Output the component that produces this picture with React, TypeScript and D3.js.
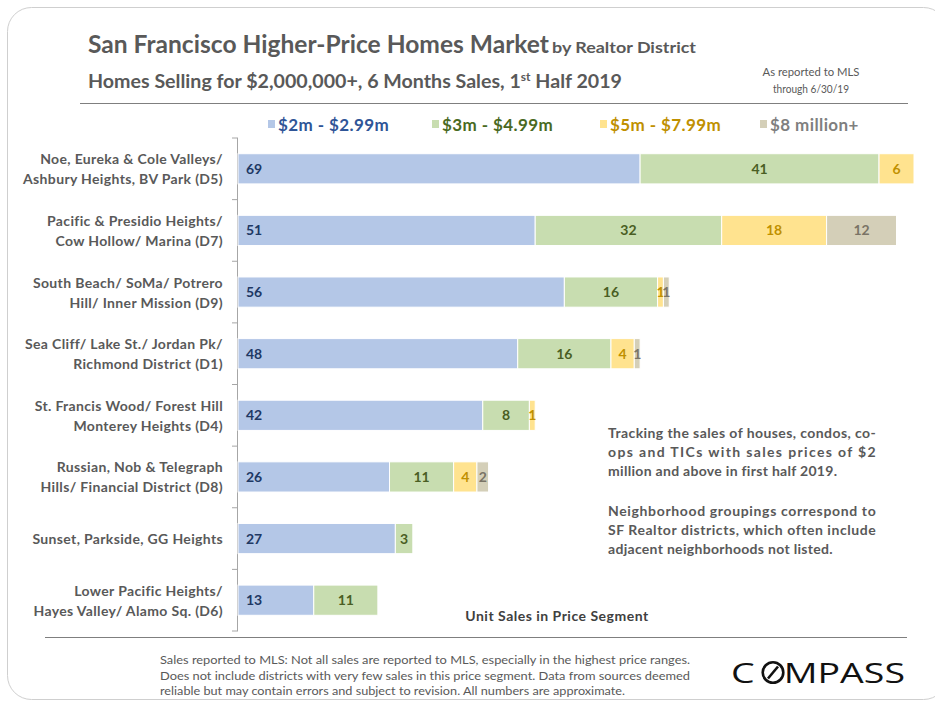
import React from "react";
import * as d3 from "d3";

const districts: string[][] = [
  ["Noe, Eureka & Cole Valleys/", "Ashbury Heights, BV Park (D5)"],
  ["Pacific & Presidio Heights/", "Cow Hollow/ Marina (D7)"],
  ["South Beach/ SoMa/ Potrero", "Hill/ Inner Mission  (D9)"],
  ["Sea Cliff/ Lake St./ Jordan Pk/", "Richmond District (D1)"],
  ["St. Francis Wood/ Forest Hill", "Monterey Heights (D4)"],
  ["Russian, Nob & Telegraph", "Hills/ Financial District (D8)"],
  ["Sunset, Parkside, GG Heights"],
  ["Lower Pacific Heights/", "Hayes Valley/ Alamo Sq. (D6)"],
];
const seg2to3 = [69, 51, 56, 48, 42, 26, 27, 13];
const seg3to5 = [41, 32, 16, 16, 8, 11, 3, 11];
const seg5to8 = [6, 18, 1, 4, 1, 4, 0, 0];
const seg8plus = [0, 12, 1, 1, 0, 2, 0, 0];
const seriesNames = ["$2m - $2.99m", "$3m - $4.99m", "$5m - $7.99m", "$8 million+"];
const seriesFill = ["#b4c7e7", "#c8ddb0", "#ffe38f", "#d4cfb8"];
const seriesText = ["#203864", "#4a5e23", "#bf9000", "#7a7466"];
const legendText = ["#2f5597", "#4a6a1f", "#bf9000", "#7f7f7f"];

const noteLines1 = [
  "Tracking the sales of houses, condos, co-",
  "ops and TICs with sales prices of $2",
  "million and above in first half 2019.",
];
const noteLines2 = [
  "Neighborhood groupings correspond to",
  "SF Realtor districts, which often include",
  "adjacent neighborhoods not listed.",
];
const footerLines = [
  "Sales reported to MLS: Not all sales are reported to MLS, especially in the highest price ranges.",
  "Does not include districts with very few sales in this price segment. Data from sources deemed",
  "reliable but may contain  errors and subject to revision.  All numbers are approximate.",
];

const FONT = "Lato, 'Open Sans', sans-serif";
const GRAY = "#595959";

export default function App() {
  const series = [seg2to3, seg3to5, seg5to8, seg8plus];
  const x = d3.scaleLinear().domain([0, 116]).range([238, 914]);
  const y = d3
    .scaleBand<number>()
    .domain(d3.range(districts.length))
    .range([138, 631])
    .padding(0);
  const barH = y.bandwidth() * 0.49;

  const stack = d3
    .stack<number>()
    .keys(d3.range(series.length).map(String))
    .value((i, k) => series[+k][i]);
  const stacked = stack(d3.range(districts.length));

  const legendX = [268, 432, 600, 760];

  return (
    <svg
      width={935}
      height={705}
      style={{ position: "absolute", left: 0, top: 0, background: "#fff" }}
      fontFamily={FONT}
    >
      <rect x={7.5} y={7.5} width={940} height={692} rx={24} fill="#fff" stroke="#cfcfcf" />

      {/* titles */}
      <text x={88} y={53} fill={GRAY} fontWeight={700} fontSize={24} textLength={461} lengthAdjust="spacingAndGlyphs">
        San Francisco Higher-Price Homes Market
      </text>
      <text x={552} y={53} fill={GRAY} fontWeight={700} fontSize={16} textLength={144} lengthAdjust="spacingAndGlyphs">
        by Realtor District
      </text>
      <text x={88} y={88} fill={GRAY} fontWeight={700} fontSize={18} textLength={534} lengthAdjust="spacingAndGlyphs">
        Homes Selling for $2,000,000+, 6 Months  Sales, 1
        <tspan fontSize={11} dy={-7}>st</tspan>
        <tspan dy={7}> Half 2019</tspan>
      </text>
      <text x={811} y={76} fill={GRAY} fontSize={11} textAnchor="middle" textLength={97} lengthAdjust="spacingAndGlyphs">
        As reported to MLS
      </text>
      <text x={811} y={93} fill={GRAY} fontSize={11} textAnchor="middle" textLength={76} lengthAdjust="spacingAndGlyphs">
        through 6/30/19
      </text>
      <line x1={80} x2={908} y1={103.5} y2={103.5} stroke="#7f7f7f" strokeWidth={1.2} />

      {/* legend */}
      {seriesNames.map((n, i) => (
        <g key={n}>
          <rect x={legendX[i]} y={120} width={7} height={8} fill={seriesFill[i]} />
          <text x={legendX[i] + 10} y={130.5} fill={legendText[i]} fontWeight={700} fontSize={17} letterSpacing={0.4}>
            {n}
          </text>
        </g>
      ))}

      {/* axis */}
      <line x1={237.5} x2={237.5} y1={138} y2={631} stroke="#a6a6a6" />
      {d3.range(districts.length + 1).map((i) => {
        const yy = i < districts.length ? (y(i) as number) : 631;
        return <line key={i} x1={232} x2={238} y1={yy} y2={yy} stroke="#a6a6a6" />;
      })}

      {/* category labels */}
      {districts.map((lines, i) => {
        const c = (y(i) as number) + y.bandwidth() / 2;
        const start = lines.length === 1 ? c + 5 : c - 4.5;
        return (
          <text key={i} textAnchor="end" fill={GRAY} fontWeight={700} fontSize={14} letterSpacing={0.35}>
            {lines.map((l, j) => (
              <tspan key={j} x={223} y={start + j * 20}>
                {l}
              </tspan>
            ))}
          </text>
        );
      })}

      {/* bars */}
      {stacked.map((layer, si) => (
        <g key={si}>
          {layer.map((d, i) => {
            const v = series[si][i];
            if (!v) return null;
            const x0 = x(d[0]);
            const x1 = x(d[1]);
            const c = (y(i) as number) + y.bandwidth() / 2;
            return (
              <g key={i}>
                <rect
                  x={x0}
                  y={c - barH / 2}
                  width={x1 - x0}
                  height={barH}
                  fill={seriesFill[si]}
                  stroke="#fff"
                  strokeWidth={1}
                />
                <text
                  x={si === 0 ? x0 + 8 : (x0 + x1) / 2}
                  y={c + 5}
                  textAnchor={si === 0 ? "start" : "middle"}
                  fill={seriesText[si]}
                  fontWeight={700}
                  fontSize={14}
                >
                  {v}
                </text>
              </g>
            );
          })}
        </g>
      ))}

      {/* notes */}
      {noteLines1.map((l, i) => (
        <text
          key={"a" + i}
          x={608}
          y={438 + i * 19}
          fill={GRAY}
          fontWeight={700}
          fontSize={14}
          letterSpacing={0.3}
          textLength={i < noteLines1.length - 1 ? 268 : undefined}
          lengthAdjust="spacing"
        >
          {l}
        </text>
      ))}
      {noteLines2.map((l, i) => (
        <text
          key={"b" + i}
          x={608}
          y={516 + i * 19}
          fill={GRAY}
          fontWeight={700}
          fontSize={14}
          letterSpacing={0.3}
          textLength={i < noteLines2.length - 1 ? 268 : undefined}
          lengthAdjust="spacing"
        >
          {l}
        </text>
      ))}
      <text x={557} y={621} textAnchor="middle" fill="#404040" fontWeight={700} fontSize={14} letterSpacing={0.5}>
        Unit Sales in Price Segment
      </text>

      <line x1={45} x2={907} y1={637.5} y2={637.5} stroke="#7f7f7f" strokeWidth={1.2} />

      {/* footer */}
      {footerLines.map((l, i) => (
        <text
          key={"f" + i}
          x={160}
          y={664 + i * 15.5}
          fill={GRAY}
          fontSize={11}
          textLength={i < 2 ? 530 : 465}
          lengthAdjust="spacingAndGlyphs"
        >
          {l}
        </text>
      ))}

      {/* logo */}
      <text x={731} y={683} fill="#111" fontSize={28} fontFamily="'Open Sans', sans-serif" textLength={174} lengthAdjust="spacingAndGlyphs">
        C<tspan fill="none">O</tspan>MPASS
      </text>
      <g transform="translate(773,672.5)">
        <circle r={10.3} fill="none" stroke="#111" strokeWidth={2.6} />
        <line x1={-5} y1={6} x2={5} y2={-6} stroke="#111" strokeWidth={2.6} />
      </g>
    </svg>
  );
}
